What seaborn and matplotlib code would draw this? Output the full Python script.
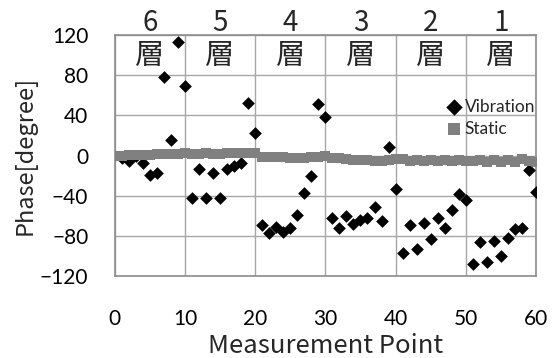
import numpy as np
import pandas as pd
import matplotlib
matplotlib.use("Agg")
import matplotlib.pyplot as plt
import seaborn as sns

# Measurement points and phase readings
vib_points = list(range(1, 61))
vib_phase = [
    -2, -5, 0, -7, -19, -17, 78, 15, 113, 69,
    -42, -13, -42, -17, -42, -13, -10, -7, 52, 22,
    -69, -77, -71, -76, -72, -59, -37, -20, 51, 38,
    -62, -72, -60, -68, -64, -62, -51, -65, 9, -33,
    -97, -69, -93, -67, -83, -62, -72, -54, -38, -44,
    -108, -86, -106, -85, -100, -82, -73, -72, -14, -36,
]
static_points = list(range(0, 61))
static_phase = [
    0, 0, 0.5, 0.5, 1, 1, 1.5, 1.5, 2, 2,
    2.5, 2, 2, 2.5, 2, 2, 2.5, 3, 3, 3, 3,
    -1, -1, -1.5, -1.5, -2, -2, -2, -1.5, -1, 0,
    -2, -2, -3, -4, -4, -4, -5, -5, -4, -3,
    -3, -5, -4, -5, -4, -5, -4, -5, -4, -5,
    -5, -4, -6, -4, -6, -4, -6, -3, -5, -6,
]
layer_names = ["6", "5", "4", "3", "2", "1"]
layer_centers = [5, 15, 25, 35, 45, 55]
layer_char = "層"

vib = pd.DataFrame({"point": vib_points, "phase": vib_phase})
sta = pd.DataFrame({"point": static_points, "phase": static_phase})

sns.set_style("white")
plt.rcParams["font.family"] = ["Noto Sans CJK JP", "DejaVu Sans"]

fig = plt.figure(figsize=(5.58, 3.58), dpi=100)
ax = fig.add_axes([0.2056, 0.229, 0.755, 0.673])

sns.scatterplot(data=vib, x="point", y="phase", marker="D", s=42,
                color="black", linewidth=0, label="Vibration", ax=ax, zorder=3)
sns.scatterplot(data=sta, x="point", y="phase", marker="s", s=62,
                color="#808080", linewidth=0, label="Static", ax=ax, zorder=4)

ax.set_xlim(0, 60)
ax.set_ylim(-120, 120)
ax.set_xticks(range(0, 61, 10))
ax.set_yticks(range(-120, 121, 40))
ax.grid(True, color="#a6a6a6", linewidth=1.0)
ax.set_axisbelow(True)
for sp in ax.spines.values():
    sp.set_color("#8c8c8c")
    sp.set_linewidth(1.2)

ax.tick_params(axis="both", length=0, labelsize=15, colors="black")
ax.tick_params(axis="x", pad=24)
ax.tick_params(axis="y", pad=19)
for lbl in ax.get_xticklabels() + ax.get_yticklabels():
    lbl.set_family(["Lato", "DejaVu Sans"])

ax.set_xlabel("Measurement Point", fontsize=18.5, va="center")
ax.xaxis.set_label_coords(0.5, -0.29)
ax.set_ylabel("Phase[degree]", fontsize=17, labelpad=2)

# Layer annotations across the top band
for name, cx in zip(layer_names, layer_centers):
    ax.text(cx, 132, name, ha="center", va="center", fontsize=20,
            family=["Noto Sans CJK JP"], clip_on=False)
    ax.text(cx, 99, layer_char, ha="center", va="center", fontsize=21,
            family=["Noto Sans CJK JP"])

leg = ax.legend(loc="upper left", bbox_to_anchor=(0.765, 0.765), frameon=False,
                handletextpad=0.0, labelspacing=0.35, borderaxespad=0,
                prop={"family": ["Lato", "DejaVu Sans"], "size": 12.5},
                handlelength=1.2)
for h in leg.legend_handles:
    h.set_sizes([70])

fig.savefig("out.png", dpi=100)
